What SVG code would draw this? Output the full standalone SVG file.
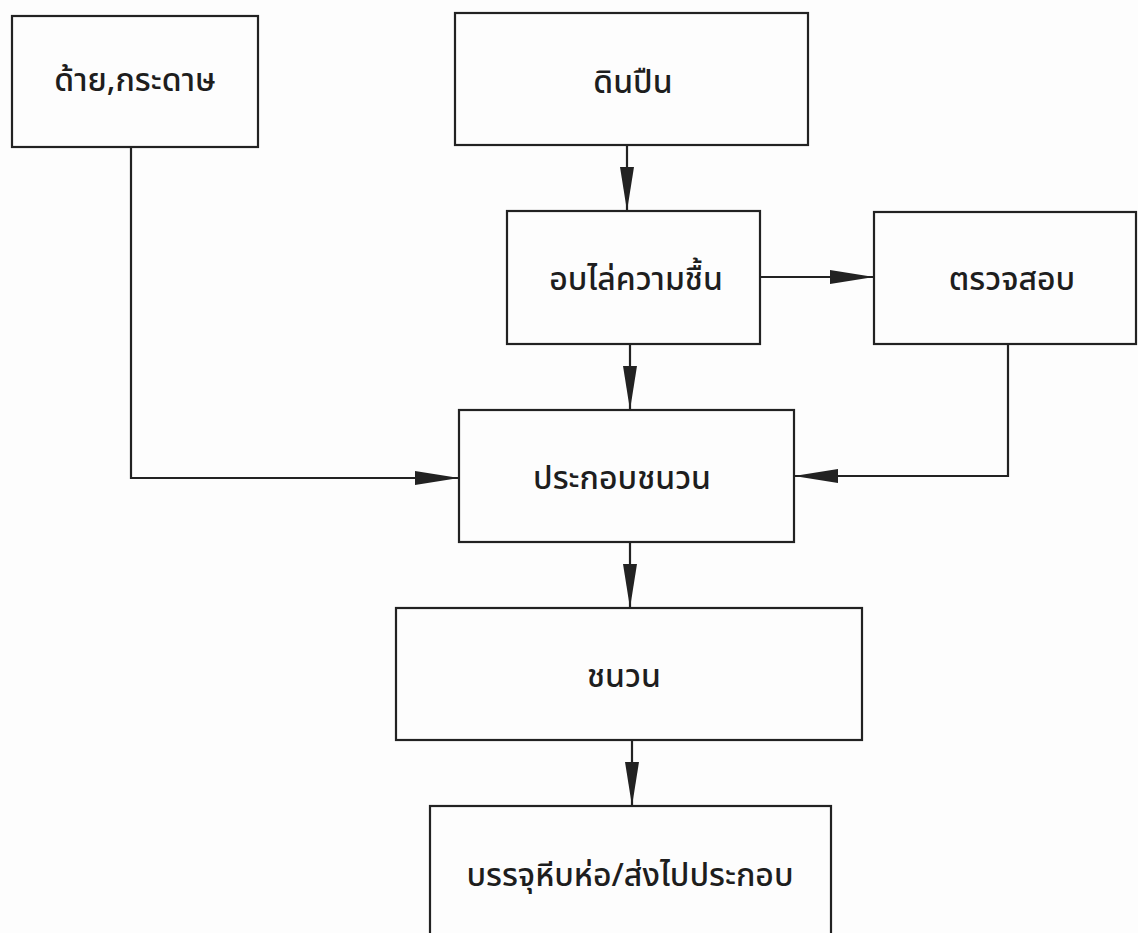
<svg xmlns="http://www.w3.org/2000/svg" width="1138" height="933" viewBox="0 0 1138 933">
<style>
.box{fill:none;stroke:#222;stroke-width:2.2}
.lbl{font-family:"Noto Sans Thai","Noto Sans","DejaVu Sans",sans-serif;font-size:32px;font-weight:500;fill:#1e1e1e;text-anchor:middle}
.con{fill:none;stroke:#222;stroke-width:2.2}
</style>
<defs>
<marker id="arr" markerUnits="userSpaceOnUse" markerWidth="46" markerHeight="16" refX="44" refY="7" orient="auto">
<path d="M0,0 L44,7 L0,14 Z" fill="#222"/>
</marker>
</defs>
<rect width="1138" height="933" fill="#fdfdfd"/>
<g id="n1"><rect class="box" x="12" y="16" width="246" height="131"/><text class="lbl" x="135" y="91">ด้าย,กระดาษ</text></g>
<g id="n2"><rect class="box" x="455" y="13" width="353" height="132"/><text class="lbl" x="633" y="93">ดินปืน</text></g>
<g id="n3"><rect class="box" x="507" y="211" width="253" height="133"/><text class="lbl" x="636" y="290">อบไล่ความชื้น</text></g>
<g id="n4"><rect class="box" x="874" y="212" width="262" height="132"/><text class="lbl" x="1012" y="290">ตรวจสอบ</text></g>
<g id="n5"><rect class="box" x="459" y="410" width="335" height="132"/><text class="lbl" x="622" y="489">ประกอบชนวน</text></g>
<g id="n6"><rect class="box" x="396" y="608" width="466" height="132"/><text class="lbl" x="624" y="687">ชนวน</text></g>
<g id="n7"><rect class="box" x="430" y="806" width="401" height="140"/><text class="lbl" x="630" y="886">บรรจุหีบห่อ/ส่งไปประกอบ</text></g>
<g id="connectors">
<line class="con" x1="627" y1="145" x2="627" y2="211" marker-end="url(#arr)"/>
<line class="con" x1="760" y1="277" x2="874" y2="277" marker-end="url(#arr)"/>
<line class="con" x1="630" y1="344" x2="630" y2="410" marker-end="url(#arr)"/>
<polyline class="con" points="131,147 131,478 459,478" marker-end="url(#arr)"/>
<polyline class="con" points="1008,344 1008,476 794,476" marker-end="url(#arr)"/>
<line class="con" x1="630" y1="542" x2="630" y2="608" marker-end="url(#arr)"/>
<line class="con" x1="632" y1="740" x2="632" y2="806" marker-end="url(#arr)"/>
</g>
</svg>
